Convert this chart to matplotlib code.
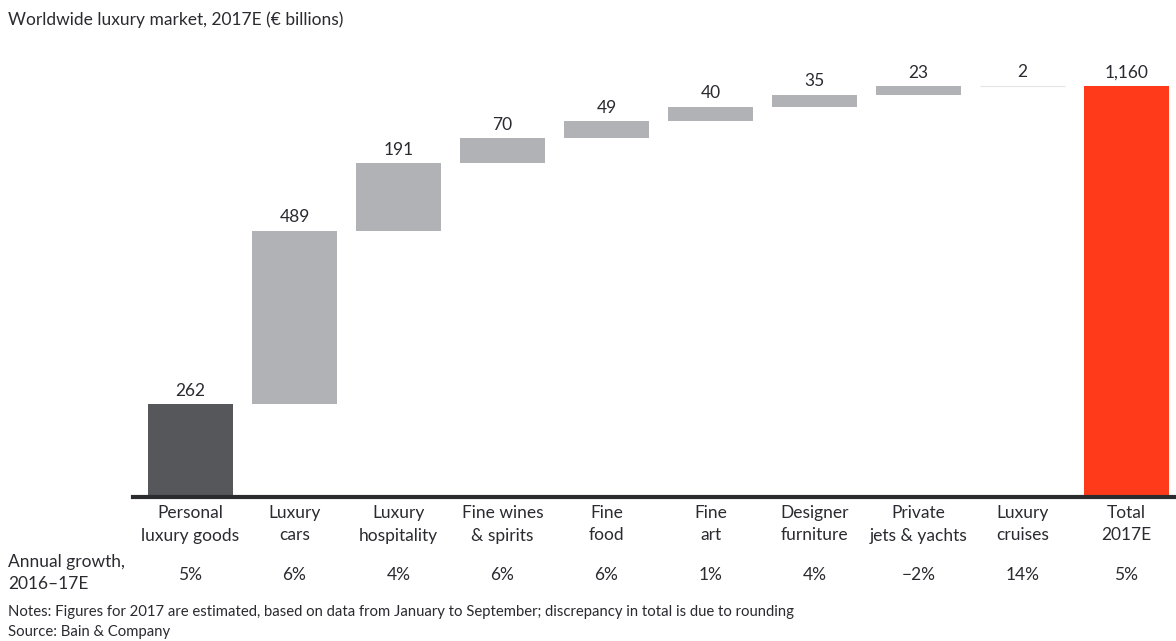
import matplotlib.pyplot as plt
import matplotlib.transforms as mtransforms
import numpy as np

plt.rcParams['font.family'] = ['Lato', 'DejaVu Sans']

categories = ["Personal\nluxury goods", "Luxury\ncars", "Luxury\nhospitality",
              "Fine wines\n& spirits", "Fine\nfood", "Fine\nart", "Designer\nfurniture",
              "Private\njets & yachts", "Luxury\ncruises", "Total\n2017E"]
values = [262, 489, 191, 70, 49, 40, 35, 23, 2, 1160]
value_labels = ["262", "489", "191", "70", "49", "40", "35", "23", "2", "1,160"]
growth = ["5%", "6%", "4%", "6%", "6%", "1%", "4%", "\u22122%", "14%", "5%"]

dark = "#56575b"
grey = "#b1b2b6"
red = "#ff3a1b"
text_col = "#2a2a30"

W, H = 1176, 641
fig = plt.figure(figsize=(W / 100, H / 100), dpi=100)

# axes placed in pixel terms
ax_left, ax_right, ax_bottom = 133, 1176, 497
ymax = 1250
ax_h = 411 * ymax / 1160
ax = fig.add_axes([ax_left / W, (H - ax_bottom) / H, (ax_right - ax_left) / W, ax_h / H])

x = np.arange(len(values))
bottoms = [0] + list(np.cumsum(values[:-1])[:-1]) + [0]
colors = [dark] + [grey] * 7 + ["#e2e2e4"] + [red]

ax.bar(x, values, bottom=bottoms, width=0.82, color=colors, zorder=2)
# the 2bn cruise step is thinner than a pixel; outline it faintly
ax.bar(x[8], values[8], bottom=bottoms[8], width=0.82, color="none",
       edgecolor="#e4e4e6", linewidth=0.8, zorder=2)

for xi, v, b, lab in zip(x, values, bottoms, value_labels):
    ax.annotate(lab, (xi, b + v), xytext=(0, 4), textcoords="offset points",
                ha="center", va="bottom", fontsize=12.5, color=text_col)

ax.set_xlim(-0.553, 9.476)
ax.set_ylim(0, ymax)
for s in ["top", "right", "left"]:
    ax.spines[s].set_visible(False)
ax.spines["bottom"].set_linewidth(3)
ax.spines["bottom"].set_color("#2b2c30")
ax.spines["bottom"].set_zorder(3)
ax.set_xticks([])
ax.set_yticks([])

trans = mtransforms.blended_transform_factory(ax.transData, fig.transFigure)
for xi, cat, g in zip(x, categories, growth):
    fig.text(xi, 1 - 505 / H, cat, transform=trans, ha="center", va="top",
             fontsize=12.5, color=text_col, linespacing=1.5)
    fig.text(xi, 1 - 575 / H, g, transform=trans, ha="center", va="center",
             fontsize=12.5, color=text_col)

fig.text(8 / W, 1 - 573 / H, "Annual growth,\n2016\u201317E", ha="left", va="center",
         fontsize=12.5, color=text_col, linespacing=1.4)
fig.text(8 / W, 1 - 20 / H, "Worldwide luxury market, 2017E (\u20ac billions)",
         ha="left", va="center", fontsize=12.5, color=text_col)
fig.text(8 / W, 1 - 612 / H,
         "Notes: Figures for 2017 are estimated, based on data from January to September; discrepancy in total is due to rounding",
         ha="left", va="center", fontsize=10.7, color=text_col)
fig.text(8 / W, 1 - 632 / H, "Source: Bain & Company", ha="left", va="center",
         fontsize=10.7, color=text_col)

fig.savefig("out.png", dpi=100, facecolor="white")
